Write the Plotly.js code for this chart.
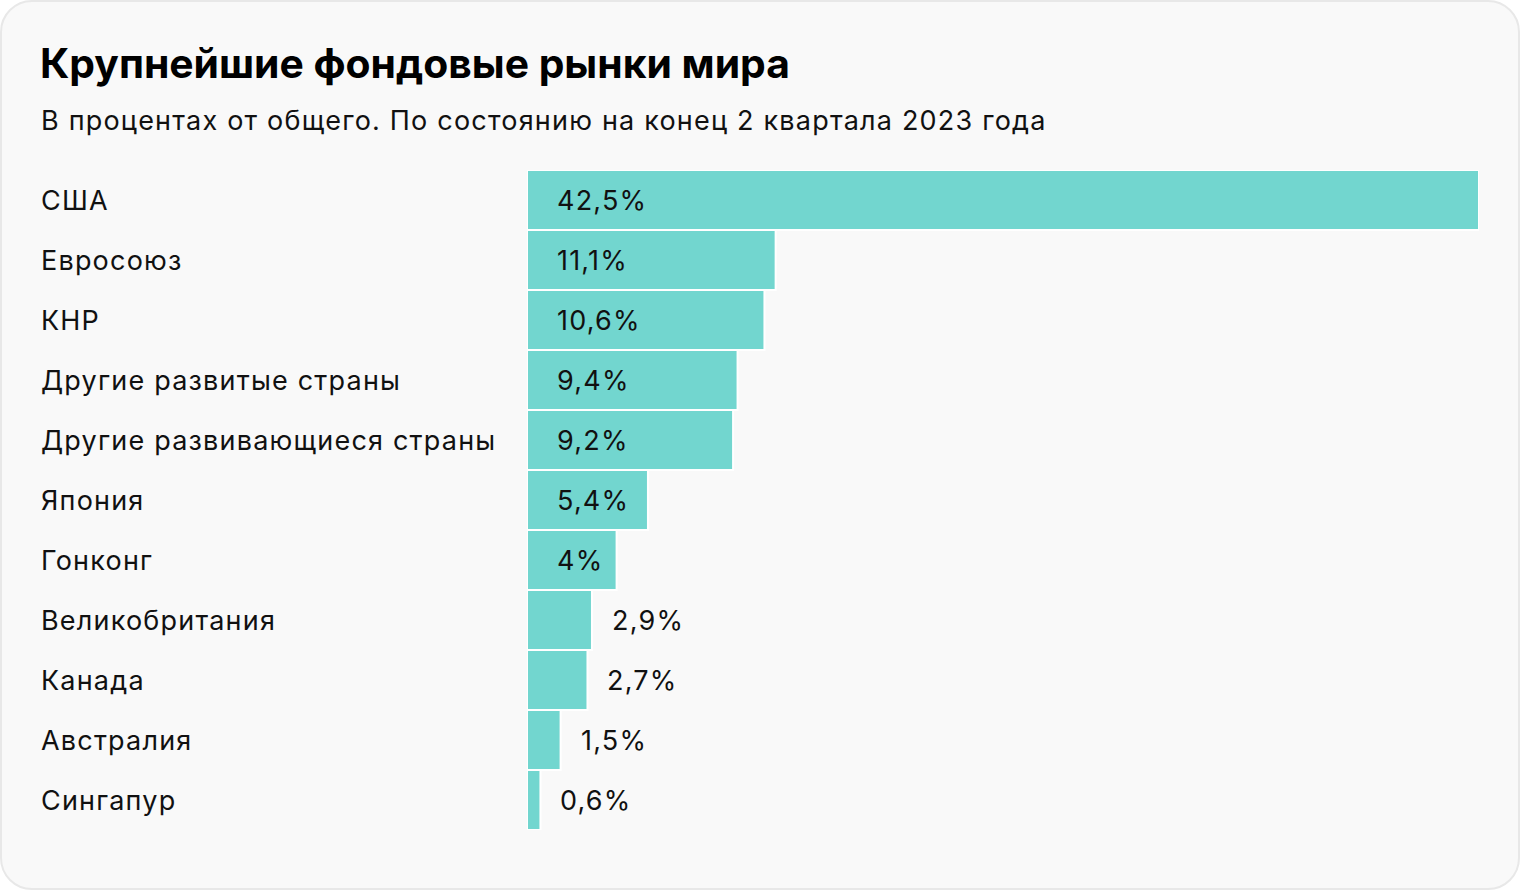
<!DOCTYPE html>
<html>
<head>
<meta charset="utf-8">
<script src="https://cdn.plot.ly/plotly-3.0.1.min.js"></script>
<style>
html,body{margin:0;padding:0;background:#ffffff;}
#card{position:absolute;left:0;top:0;width:1516px;height:886px;border:2px solid #e8e8e8;border-radius:32px;background:#f9f9f9;}
#chart{position:absolute;left:0;top:0;width:1520px;height:890px;}
.annotation-text{letter-spacing:1.2px;}
</style>
</head>
<body>
<div id="card"></div>
<div id="chart"></div>
<script>
const categories = ["США","Евросоюз","КНР","Другие развитые страны","Другие развивающиеся страны","Япония","Гонконг","Великобритания","Канада","Австралия","Сингапур"];
const values = [42.5,11.1,10.6,9.4,9.2,5.4,4,2.9,2.7,1.5,0.6];
const labels = ["42,5%","11,1%","10,6%","9,4%","9,2%","5,4%","4%","2,9%","2,7%","1,5%","0,6%"];
const insideThreshold = 3.5;

const FONT = "Inter, Roboto, 'Noto Sans', sans-serif";
const W = 1520, H = 890;
const mL = 527, mR = 41, mT = 170, mB = 60;
const plotW = W - mL - mR, plotH = H - mT - mB;
const leftX = -(mL - 39) / plotW;

const annotations = [];
categories.forEach((c, i) => {
  annotations.push({xref:'paper', yref:'y', x:leftX, y:c, xanchor:'left', yanchor:'middle',
    text:c, showarrow:false, font:{family:FONT, size:27, color:'#111111'}});
  const inside = values[i] > insideThreshold;
  annotations.push({xref:'x', yref:'y', x: inside ? 0 : values[i], y:c, xanchor:'left', yanchor:'middle',
    xshift: inside ? 28 : 18, text:labels[i], showarrow:false, font:{family:FONT, size:27, color:'#111111'}});
});
annotations.push({xref:'paper', yref:'paper', x:leftX, y:1 + (mT - 120) / plotH, xanchor:'left', yanchor:'middle',
  text:"В процентах от общего. По состоянию на конец 2 квартала 2023 года", showarrow:false,
  font:{family:FONT, size:27, color:'#111111'}});

const trace = {
  type:'bar', orientation:'h', x:values, y:categories,
  marker:{color:'#72d6cf', line:{color:'#ffffff', width:2}},
  hoverinfo:'none', cliponaxis:false
};

const layout = {
  width:W, height:H,
  margin:{l:mL, r:mR, t:mT, b:mB, pad:0},
  paper_bgcolor:'rgba(0,0,0,0)', plot_bgcolor:'rgba(0,0,0,0)',
  title:{text:"<b>Крупнейшие фондовые рынки мира</b>", xref:'container', yref:'container',
    x:40/W, xanchor:'left', y:1 - 64/H, yanchor:'middle',
    font:{family:FONT, size:40.8, color:'#000000'}},
  bargap:0,
  showlegend:false,
  xaxis:{range:[0,42.5], visible:false, fixedrange:true},
  yaxis:{type:'category', categoryorder:'array', categoryarray:categories, autorange:'reversed',
    showticklabels:false, showgrid:false, zeroline:false, showline:false, ticks:'', fixedrange:true},
  annotations:annotations
};

Plotly.newPlot('chart', [trace], layout, {staticPlot:true, displayModeBar:false});
</script>
</body>
</html>
